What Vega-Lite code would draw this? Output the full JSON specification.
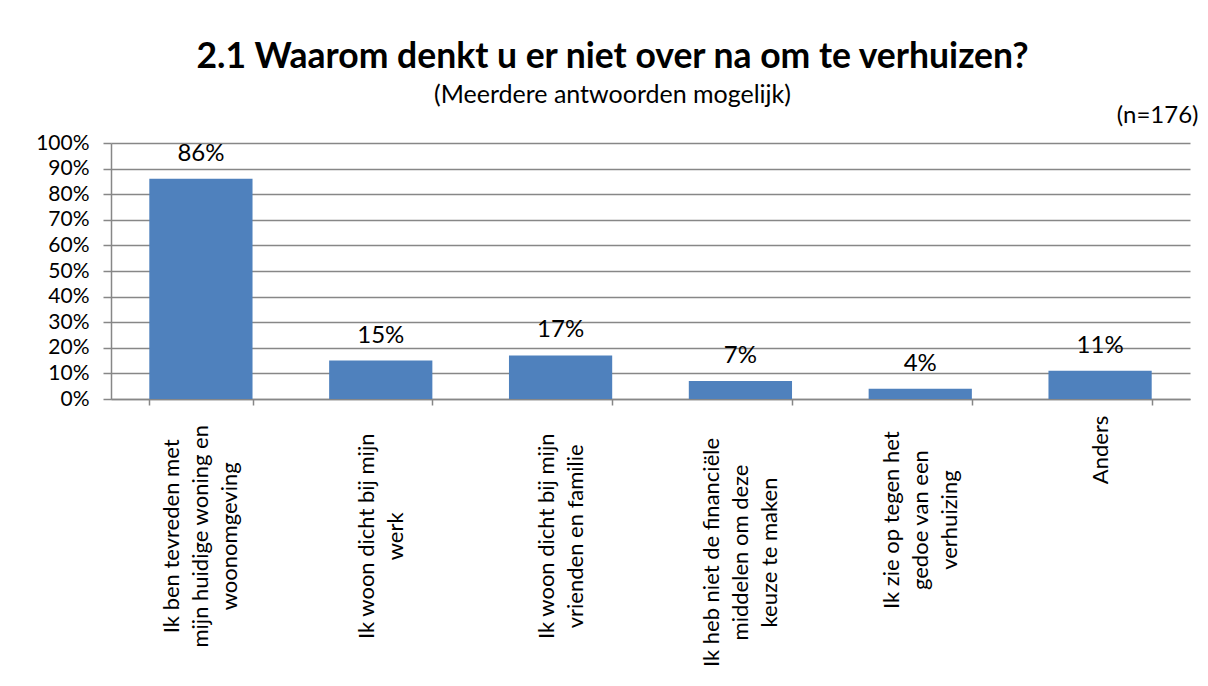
{
  "$schema": "https://vega.github.io/schema/vega-lite/v6.json",
  "width": 1079,
  "height": 256,
  "autosize": {"type": "none"},
  "padding": {"left": 111, "top": 143, "right": 18, "bottom": 287},
  "background": "white",
  "title": {
    "text": "2.1 Waarom denkt u er niet over na om te verhuizen?",
    "subtitle": "(Meerdere antwoorden mogelijk)",
    "anchor": "middle",
    "frame": "group",
    "dx": -38,
    "font": "Lato",
    "fontSize": 35.5,
    "fontWeight": "bold",
    "color": "black",
    "subtitleFont": "Lato",
    "subtitleFontSize": 25,
    "subtitleColor": "black",
    "subtitlePadding": 8,
    "offset": -5
  },
  "data": {
    "values": [
      {"reden": "Ik ben tevreden met|mijn huidige woning en|woonomgeving", "aandeel": 0.86},
      {"reden": "Ik woon dicht bij mijn|werk", "aandeel": 0.15},
      {"reden": "Ik woon dicht bij mijn|vrienden en familie", "aandeel": 0.17},
      {"reden": "Ik heb niet de financiële|middelen om deze|keuze te maken", "aandeel": 0.07},
      {"reden": "Ik zie op tegen het|gedoe van een|verhuizing", "aandeel": 0.04},
      {"reden": "Anders", "aandeel": 0.11}
    ]
  },
  "encoding": {
    "x": {
      "field": "reden",
      "type": "nominal",
      "sort": null,
      "scale": {"paddingInner": 0.426, "paddingOuter": 0.213},
      "axis": {
        "title": null,
        "labelExpr": "split(datum.label, '|')",
        "labelAngle": 270,
        "labelAlign": "center",
        "labelBaseline": "middle",
        "labelLineHeight": 29,
        "labelFont": "Lato",
        "labelFontSize": 22,
        "labelColor": "black",
        "labelPadding": {"expr": "12 + 5.4 * max(length(split(datum.label,'|')[0]), length(split(datum.label,'|')[1] || ''), length(split(datum.label,'|')[2] || ''))"},
        "labelOffset": {"expr": "-(length(split(datum.label,'|')) - 1) * 14.5"},
        "labelLimit": 400,
        "tickBand": "extent",
        "tickSize": 6,
        "tickColor": "#878787",
        "tickWidth": 1.5,
        "domainColor": "#878787",
        "domainWidth": 1.5,
        "grid": false
      }
    },
    "y": {
      "field": "aandeel",
      "type": "quantitative",
      "scale": {"domain": [0, 1], "nice": false},
      "axis": {
        "values": [0, 0.1, 0.2, 0.3, 0.4, 0.5, 0.6, 0.7, 0.8, 0.9, 1],
        "format": ".0%",
        "labelFont": "Lato",
        "labelFontSize": 21,
        "labelColor": "black",
        "labelPadding": 14,
        "tickSize": 8,
        "tickColor": "#878787",
        "tickWidth": 1.5,
        "domainColor": "#878787",
        "domainWidth": 1.5,
        "gridColor": "#878787",
        "gridWidth": 1.5,
        "title": "(n=176)",
        "titleAngle": 0,
        "titleAlign": "right",
        "titleBaseline": "middle",
        "titleX": 1087,
        "titleY": -28,
        "titleFont": "Lato",
        "titleFontSize": 24,
        "titleFontWeight": "normal",
        "titleColor": "black"
      }
    }
  },
  "layer": [
    {"mark": {"type": "bar", "color": "#4F81BD"}},
    {
      "mark": {"type": "text", "font": "Lato", "fontSize": 24, "color": "black", "baseline": "alphabetic", "dy": -18},
      "encoding": {"text": {"field": "aandeel", "type": "quantitative", "format": ".0%"}}
    }
  ],
  "config": {
    "view": {"stroke": null}
  }
}
